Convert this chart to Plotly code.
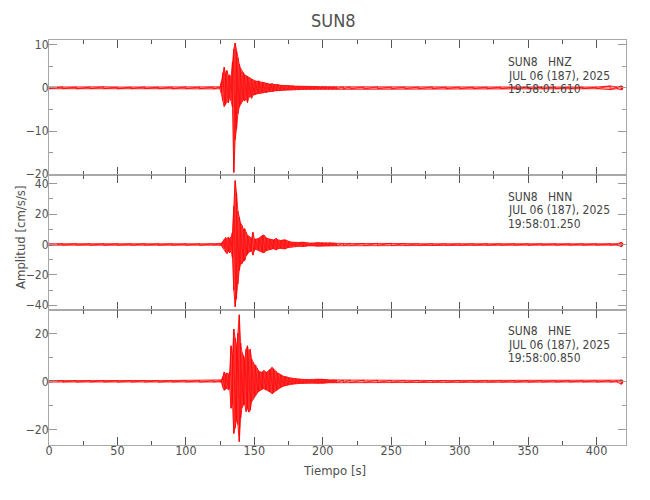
import plotly.graph_objects as go
from plotly.subplots import make_subplots

# ---------------- data ----------------
STATION = "SUN8"
CHANNELS = ["HNZ", "HNN", "HNE"]
DATE_TXT = "JUL 06 (187), 2025"
START_TIMES = ["19:58:01.610", "19:58:01.250", "19:58:00.850"]

# sample times (s): quiet pre-event, event (1 s min/max bins), quiet coda
T_PRE = [0, 10, 20, 30, 40, 50, 60, 70, 80, 90, 100, 110, 120, 125]
T_EVENT = list(range(126, 211))
T_POST = [215, 220, 230, 240, 250, 260, 270, 280, 290, 300, 310, 320, 330,
          340, 350, 360, 370, 380, 390, 400, 410, 415, 418, 419]

# --- HNZ (cm/s/s), per-bin maxima and minima
HNZ_PRE_MAX = [0.2, 0.25, 0.2, 0.2, 0.25, 0.2, 0.2, 0.25, 0.2, 0.2, 0.25, 0.2, 0.2, 0.25]
HNZ_PRE_MIN = [-0.2, -0.2, -0.25, -0.2, -0.2, -0.25, -0.2, -0.2, -0.2, -0.25, -0.2, -0.2, -0.25, -0.2]
HNZ_EV_MAX = [1.5, 3.5, 4.8, 3.2, 4.0, 2.8, 3.0, 2.2, 6.0, 9.0,
              10.4, 8.5, 7.0, 5.5, 4.5, 3.8, 3.5, 3.0, 2.8, 2.7,
              2.5, 2.2, 2.0, 1.8, 1.7, 1.6, 1.5, 1.6, 1.4, 1.3,
              1.3, 1.2, 1.1, 1.0, 1.0, 0.9, 0.9, 1.0, 0.8, 0.8,
              0.7, 0.8, 0.7, 0.6, 0.6, 0.6, 0.5, 0.6, 0.5, 0.5,
              0.5, 0.45, 0.5, 0.45, 0.4, 0.4, 0.45, 0.4, 0.35, 0.4,
              0.35, 0.4, 0.35, 0.3, 0.35, 0.3, 0.35, 0.3, 0.3, 0.35,
              0.3, 0.3, 0.25, 0.3, 0.3, 0.25, 0.3, 0.25, 0.25, 0.3,
              0.25, 0.25, 0.3, 0.25, 0.25]
HNZ_EV_MIN = [-1.2, -3.0, -4.3, -3.8, -3.0, -3.5, -2.2, -3.0, -4.5, -19.6,
              -12.0, -9.5, -6.0, -4.5, -3.8, -3.2, -2.8, -3.0, -2.4, -3.4,
              -2.2, -2.0, -2.4, -1.7, -1.6, -1.5, -1.4, -1.3, -1.3, -1.2,
              -1.2, -1.1, -1.0, -1.1, -0.9, -0.9, -0.8, -0.8, -0.8, -0.7,
              -0.7, -0.6, -0.7, -0.6, -0.6, -0.55, -0.5, -0.55, -0.5, -0.5,
              -0.45, -0.5, -0.45, -0.4, -0.45, -0.4, -0.4, -0.35, -0.4, -0.35,
              -0.35, -0.3, -0.35, -0.3, -0.3, -0.35, -0.3, -0.3, -0.3, -0.25,
              -0.3, -0.25, -0.3, -0.25, -0.25, -0.3, -0.25, -0.25, -0.3, -0.25,
              -0.25, -0.3, -0.25, -0.25, -0.25]
HNZ_POST_MAX = [0.25, 0.25, 0.2, 0.25, 0.2, 0.2, 0.2, 0.25, 0.2, 0.2, 0.2, 0.2,
                0.2, 0.2, 0.2, 0.2, 0.2, 0.2, 0.2, 0.2, 0.45, 0.2, 0.45, 0.35]
HNZ_POST_MIN = [-0.25, -0.2, -0.25, -0.2, -0.2, -0.2, -0.25, -0.2, -0.2, -0.2, -0.2, -0.2,
                -0.2, -0.2, -0.2, -0.2, -0.2, -0.2, -0.2, -0.2, -0.4, -0.2, -0.45, -0.35]

# --- HNN
HNN_PRE_MAX = [0.5, 0.45, 0.5, 0.45, 0.5, 0.5, 0.45, 0.5, 0.45, 0.5, 0.5, 0.45, 0.5, 0.5]
HNN_PRE_MIN = [-0.45, -0.5, -0.45, -0.5, -0.45, -0.5, -0.5, -0.45, -0.5, -0.45, -0.5, -0.5, -0.45, -0.5]
HNN_EV_MAX = [0.8, 2.0, 3.5, 4.5, 3.8, 4.8, 4.0, 5.0, 8.0, 25.0,
              42.0, 34.0, 22.0, 18.0, 14.0, 12.5, 10.0, 10.3, 8.0, 6.0,
              5.5, 4.5, 4.0, 8.0, 3.7, 3.5, 3.6, 4.0, 4.5, 5.5,
              6.0, 6.2, 5.0, 4.2, 3.8, 3.5, 3.5, 3.2, 3.0, 3.4,
              4.0, 3.2, 2.8, 2.6, 2.8, 3.0, 3.2, 3.0, 2.4, 2.0,
              1.8, 1.6, 1.5, 1.4, 1.4, 1.3, 1.2, 1.3, 1.5, 1.6,
              1.5, 1.4, 1.2, 1.0, 0.9, 0.9, 1.0, 0.9, 1.0, 1.2,
              1.1, 1.2, 1.0, 1.1, 1.2, 1.0, 1.1, 0.9, 1.0, 1.1,
              1.0, 0.9, 1.0, 0.8, 0.8]
HNN_EV_MIN = [-0.8, -2.2, -3.0, -5.0, -6.0, -4.5, -5.5, -4.0, -9.0, -30.0,
              -41.0, -36.0, -26.0, -17.0, -13.0, -12.5, -11.0, -10.5, -7.5, -6.5,
              -5.0, -4.8, -4.2, -7.0, -3.9, -3.2, -3.4, -3.8, -4.2, -4.8,
              -5.2, -5.5, -4.5, -4.0, -3.6, -3.4, -3.2, -3.0, -2.8, -3.2,
              -3.6, -3.0, -2.6, -2.5, -2.6, -2.8, -3.0, -2.8, -2.2, -1.9,
              -1.6, -1.5, -1.4, -1.3, -1.3, -1.2, -1.2, -1.1, -1.3, -1.4,
              -1.4, -1.3, -1.1, -1.0, -0.9, -0.9, -0.9, -0.9, -1.0, -1.1,
              -1.1, -1.0, -1.1, -1.0, -1.1, -1.0, -0.9, -1.0, -0.9, -1.0,
              -0.9, -0.9, -0.8, -0.8, -0.8]
HNN_POST_MAX = [0.7, 0.6, 0.6, 0.7, 0.8, 0.6, 0.5, 0.5, 0.5, 0.5, 0.5, 0.45,
                0.45, 0.45, 0.45, 0.45, 0.45, 0.45, 0.45, 0.45, 0.5, 0.45, 1.4, 1.0]
HNN_POST_MIN = [-0.7, -0.6, -0.7, -0.6, -0.7, -0.6, -0.5, -0.5, -0.5, -0.5, -0.45, -0.5,
                -0.45, -0.45, -0.45, -0.45, -0.45, -0.45, -0.45, -0.45, -0.5, -0.45, -1.4, -1.0]

# --- HNE
HNE_PRE_MAX = [0.3, 0.35, 0.3, 0.3, 0.35, 0.3, 0.3, 0.35, 0.3, 0.3, 0.35, 0.3, 0.3, 0.35]
HNE_PRE_MIN = [-0.3, -0.3, -0.35, -0.3, -0.3, -0.35, -0.3, -0.3, -0.35, -0.3, -0.3, -0.35, -0.3, -0.3]
HNE_EV_MAX = [0.6, 2.0, 3.9, 3.0, 3.5, 2.8, 4.0, 14.8, 10.0, 21.8,
              18.0, 14.0, 20.0, 27.7, 16.0, 12.0, 10.7, 9.0, 13.4, 14.8,
              12.0, 13.4, 9.3, 8.0, 7.0, 6.6, 5.5, 4.5, 4.0, 3.8,
              4.0, 4.5, 4.0, 3.8, 4.2, 4.8, 5.2, 5.8, 5.2, 4.5,
              4.0, 3.5, 3.2, 2.8, 2.5, 2.2, 2.0, 2.0, 1.8, 1.6,
              1.4, 1.3, 1.3, 1.2, 1.1, 1.0, 1.0, 0.9, 0.9, 0.8,
              0.8, 0.8, 0.7, 0.8, 0.7, 0.7, 0.8, 0.7, 0.8, 0.9,
              0.9, 1.0, 0.9, 1.0, 1.0, 0.9, 0.8, 0.7, 0.7, 0.6,
              0.6, 0.6, 0.7, 0.6, 0.6]
HNE_EV_MIN = [-0.5, -2.5, -3.7, -3.2, -2.8, -3.5, -3.0, -11.2, -9.0, -21.7,
              -19.5, -16.0, -18.0, -25.1, -15.4, -11.0, -9.9, -9.5, -12.6, -11.2,
              -12.8, -12.0, -8.5, -7.5, -6.5, -5.8, -5.0, -4.2, -4.0, -3.5,
              -3.2, -3.0, -3.5, -3.6, -4.0, -4.4, -4.6, -5.2, -4.8, -4.2,
              -3.8, -3.5, -3.0, -2.6, -2.4, -2.0, -2.0, -1.8, -1.6, -1.5,
              -1.3, -1.2, -1.2, -1.1, -1.0, -1.0, -0.9, -0.9, -0.8, -0.8,
              -0.8, -0.7, -0.7, -0.7, -0.7, -0.6, -0.7, -0.7, -0.8, -0.8,
              -0.9, -0.9, -0.8, -0.9, -0.9, -0.8, -0.7, -0.7, -0.6, -0.6,
              -0.6, -0.6, -0.6, -0.5, -0.5]
HNE_POST_MAX = [0.5, 0.5, 0.5, 0.45, 0.4, 0.4, 0.4, 0.35, 0.35, 0.35, 0.3, 0.3,
                0.3, 0.3, 0.3, 0.3, 0.3, 0.3, 0.3, 0.3, 0.35, 0.3, 0.6, 0.5]
HNE_POST_MIN = [-0.5, -0.5, -0.45, -0.45, -0.4, -0.4, -0.35, -0.35, -0.35, -0.3, -0.3, -0.3,
                -0.3, -0.3, -0.3, -0.3, -0.3, -0.3, -0.3, -0.3, -0.35, -0.3, -1.2, -0.8]

Y_RANGES = [[-20.2, 11.1], [-43.1, 45.7], [-26.5, 29.7]]
Y_DTICK = [10, 20, 20]
Y_MINOR = [5, 10, 10]
X_RANGE = [0, 421.5]

# ---------------- figure ----------------
FONT = "DejaVu Sans Condensed, Liberation Sans Narrow, sans-serif"
RED = "#ff0000"
FRAME = "#a8a8a8"
TXT = "#505050"

series = [
    (HNZ_PRE_MAX + HNZ_EV_MAX + HNZ_POST_MAX, HNZ_PRE_MIN + HNZ_EV_MIN + HNZ_POST_MIN),
    (HNN_PRE_MAX + HNN_EV_MAX + HNN_POST_MAX, HNN_PRE_MIN + HNN_EV_MIN + HNN_POST_MIN),
    (HNE_PRE_MAX + HNE_EV_MAX + HNE_POST_MAX, HNE_PRE_MIN + HNE_EV_MIN + HNE_POST_MIN),
]
T_ALL = T_PRE + T_EVENT + T_POST

fig = make_subplots(rows=3, cols=1, shared_xaxes=True, vertical_spacing=0)

for i, (mx, mn) in enumerate(series):
    # min/max envelope band
    fig.add_trace(go.Scatter(x=T_ALL + T_ALL[::-1], y=mx + mn[::-1], mode="lines",
                             fill="toself", fillcolor="rgba(255,50,50,0.45)",
                             line=dict(color=RED, width=0.8),
                             showlegend=False, hoverinfo="skip"),
                  row=i + 1, col=1)
    # oscillation strokes: each bin from its max to its min
    xs, ys = [], []
    for t, a, b in zip(T_ALL, mx, mn):
        xs += [t, t]
        ys += [a, b]
    fig.add_trace(go.Scatter(x=xs, y=ys, mode="lines",
                             line=dict(color=RED, width=0.8),
                             showlegend=False, hoverinfo="skip"),
                  row=i + 1, col=1)

for i in range(3):
    r = i + 1
    fig.update_xaxes(row=r, col=1, range=X_RANGE, dtick=50, tick0=0,
                     ticks="inside", ticklen=8, tickwidth=1.2, tickcolor="#555555",
                     minor=dict(ticks="inside", dtick=25, ticklen=4, tickcolor="#555555"),
                     showline=True, linecolor=FRAME, linewidth=1.2, mirror="ticks",
                     showgrid=False, zeroline=False, automargin=False,
                     showticklabels=(r == 3), ticklabelstandoff=-6,
                     tickfont=dict(family=FONT, size=12.5, color=TXT))
    fig.update_yaxes(row=r, col=1, range=Y_RANGES[i], dtick=Y_DTICK[i], tick0=0,
                     ticks="inside", ticklen=8, tickwidth=1.2, tickcolor="#999999",
                     minor=dict(ticks="inside", dtick=Y_MINOR[i], ticklen=4, tickcolor="#999999"),
                     showline=True, linecolor=FRAME, linewidth=1.2, mirror="ticks",
                     showgrid=False, zeroline=False, automargin=False,
                     ticklabelstandoff=-3,
                     tickfont=dict(family=FONT, size=12, color=TXT))

# page body has an 8 px margin, so figure pixel = screen pixel - 8
OFF = 8
L, R, T, B = 49 - OFF, 626 - OFF, 40 - OFF, 445 - OFF
H = B - T
def py(y):
    return (B - (y - OFF)) / H
def px(x):
    return ((x - OFF) - L) / (R - L)

line_y = [[62, 75.5, 89], [197, 210.5, 224], [331, 344.5, 358]]
for i in range(3):
    texts = [STATION + "\u00a0\u00a0\u00a0" + CHANNELS[i], DATE_TXT, START_TIMES[i]]
    for txt, yy in zip(texts, line_y[i]):
        fig.add_annotation(x=px(506), y=py(yy), xref="paper", yref="paper",
                           text=txt, showarrow=False, xanchor="left", yanchor="middle",
                           font=dict(family=FONT, size=12, color="#444444"))

fig.add_annotation(x=px(333), y=py(20), xref="paper", yref="paper", text=STATION,
                   showarrow=False, xanchor="center", yanchor="middle",
                   font=dict(family=FONT, size=18, color=TXT))
fig.add_annotation(x=px(334), y=py(470), xref="paper", yref="paper", text="Tiempo [s]",
                   showarrow=False, xanchor="center", yanchor="middle",
                   font=dict(family=FONT, size=13, color=TXT))
fig.add_annotation(x=px(20), y=py(238), xref="paper", yref="paper", text="Amplitud [cm/s/s]",
                   showarrow=False, xanchor="center", yanchor="middle", textangle=-90,
                   font=dict(family=FONT, size=13, color=TXT))

fig.update_layout(width=650, height=500,
                  margin=dict(l=L, r=650 - R, t=T, b=500 - B, autoexpand=False),
                  plot_bgcolor="white", paper_bgcolor="white")

fig.write_html("out.html")
